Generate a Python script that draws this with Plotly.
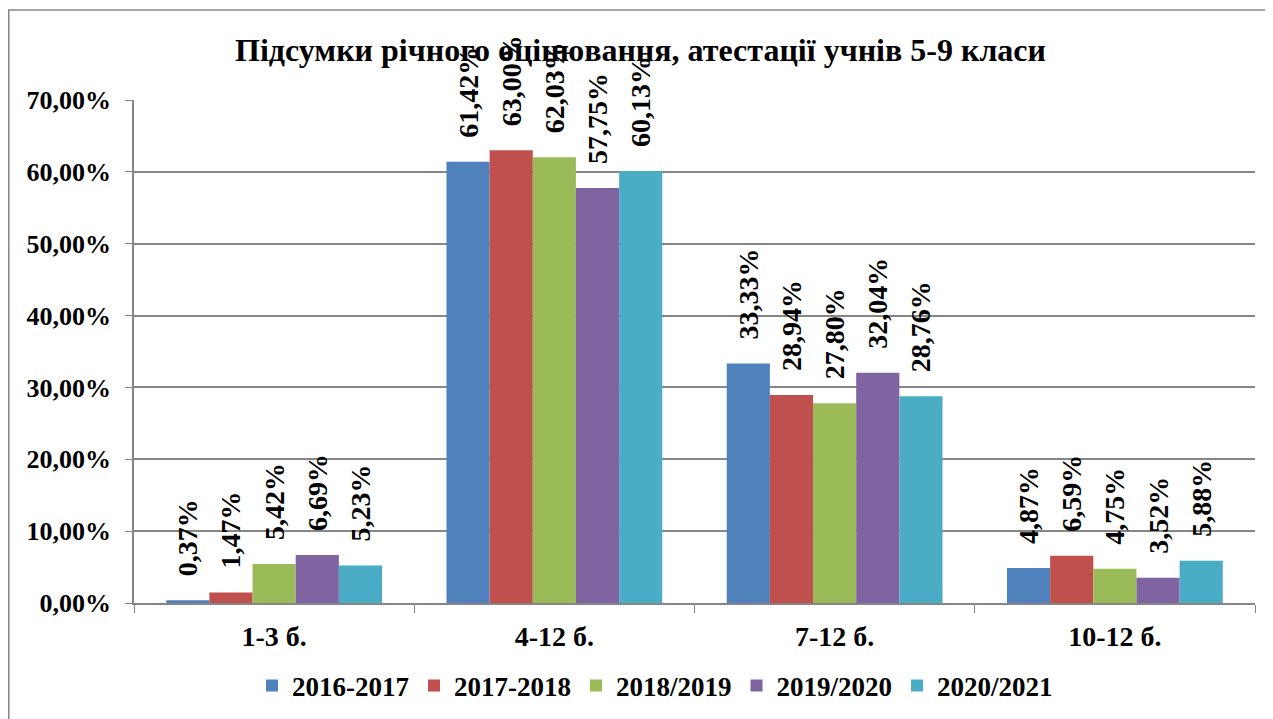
import plotly.graph_objects as go

categories = ["1-3 б.", "4-12 б.", "7-12 б.", "10-12 б."]
series_names = ["2016-2017", "2017-2018", "2018/2019", "2019/2020", "2020/2021"]
values_2016_2017 = [0.0037, 0.6142, 0.3333, 0.0487]
values_2017_2018 = [0.0147, 0.6300, 0.2894, 0.0659]
values_2018_2019 = [0.0542, 0.6203, 0.2780, 0.0475]
values_2019_2020 = [0.0669, 0.5775, 0.3204, 0.0352]
values_2020_2021 = [0.0523, 0.6013, 0.2876, 0.0588]
all_values = [values_2016_2017, values_2017_2018, values_2018_2019, values_2019_2020, values_2020_2021]
colors = ["#4F81BD", "#C0504D", "#9BBB59", "#8064A2", "#4BACC6"]

FONT = "Liberation Serif"
fig = go.Figure()
for name, vals, col in zip(series_names, all_values, colors):
    fig.add_trace(go.Bar(
        x=categories, y=vals, name="<b>" + name + "</b>",
        marker=dict(color=col, line=dict(width=0)),
        texttemplate="\u00a0\u00a0\u00a0<b>%{y:.2%}</b>", textposition="outside", textangle=-90,
        constraintext="none",
        textfont=dict(family=FONT, size=28, color="black"), cliponaxis=False,
    ))

# the page body adds an 8px offset; figure is sized to end at the window edge
W, H = 1265, 711
L, R, T, B = 126, 18, 92, 116
pw, ph = W - L - R, H - T - B
def px(x):
    return (x - L) / pw
def py(y):
    return (H - B - y) / ph

fig.update_layout(
    width=W, height=H, separators=", ",
    margin=dict(l=L, r=R, t=T, b=B, autoexpand=False),
    paper_bgcolor="white", plot_bgcolor="white",
    barmode="group", bargap=0.23, bargroupgap=0,
    font=dict(family=FONT, color="black"),
    title=dict(text="<b>Підсумки річного оцінювання, атестації учнів 5-9 класи</b>",
               x=0.5, xanchor="center", y=1 - 42 / H, yanchor="middle",
               font=dict(family=FONT, size=32, color="black")),
    legend=dict(orientation="h", x=px(647), xanchor="center", y=py(678), yanchor="middle",
                font=dict(family=FONT, size=27, color="black"), itemwidth=30,
                traceorder="normal"),
    shapes=[dict(type="rect", xref="paper", yref="paper", x0=px(0.75), x1=px(1290),
                 y0=py(740), y1=py(2), line=dict(color="#868686", width=1.5),
                 layer="below")],
)
fig.update_yaxes(range=[0, 0.7], dtick=0.1, tickformat=".2%",
                 tickprefix="<b>", ticksuffix="</b>",
                 showgrid=True, gridcolor="#868686", gridwidth=1.5,
                 showline=True, linecolor="#868686", linewidth=1.5,
                 ticks="outside", ticklen=7, tickcolor="#868686",
                 tickfont=dict(family=FONT, size=26, color="black"), zeroline=False,
                 ticklabelstandoff=9)
fig.update_xaxes(showline=True, linecolor="#868686", linewidth=1.5,
                 tickprefix="<b>", ticksuffix="</b>",
                 ticks="outside", tickson="boundaries", ticklen=8, tickcolor="#868686",
                 tickfont=dict(family=FONT, size=28, color="black"),
                 ticklabelstandoff=8)
fig.write_html("out.html")
